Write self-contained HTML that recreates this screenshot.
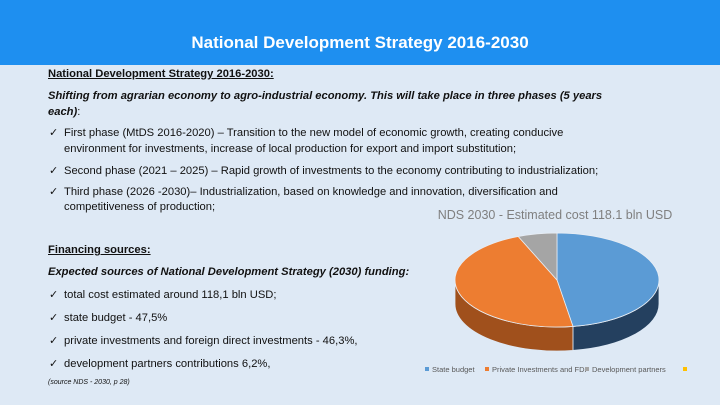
<!DOCTYPE html>
<html><head><meta charset="utf-8">
<style>
body{margin:0;}
#s{position:relative;width:720px;height:405px;background:#dee9f5;overflow:hidden;font-family:"Liberation Sans",sans-serif;color:#111;}
#hdr{position:absolute;left:0;top:0;width:720px;height:65px;background:#1e8ff0;}
#hdr div{position:absolute;left:0;width:720px;top:33px;text-align:center;color:#fff;font-weight:bold;font-size:17px;}
.t{position:absolute;left:48px;font-size:11.2px;white-space:nowrap;line-height:14px;}
.c{left:48px}
.i{left:64px}
.ck{position:absolute;left:-15px;}
</style></head><body>
<div id="s">
<div id="hdr"><div>National Development Strategy 2016-2030</div></div>
<div class="t" style="top:67px;font-weight:bold;text-decoration:underline">National Development Strategy 2016-2030:</div>
<div class="t" style="top:89px;font-weight:bold;font-style:italic">Shifting from agrarian economy to agro-industrial economy. This will take place in three phases (5 years</div>
<div class="t" style="top:105px" ><b><i>each)</i></b>:</div>
<div class="t i" style="top:126px"><span class="ck">✓</span>First phase (MtDS 2016-2020) – Transition to the new  model of economic growth, creating conducive</div>
<div class="t i" style="top:142px">environment for investments, increase of local production for export and import substitution;</div>
<div class="t i" style="top:164px"><span class="ck">✓</span>Second phase (2021 – 2025) – Rapid growth of investments to the economy contributing to industrialization;</div>
<div class="t i" style="top:185px"><span class="ck">✓</span>Third phase (2026 -2030)– Industrialization, based on knowledge and innovation, diversification and</div>
<div class="t i" style="top:200px">competitiveness of production;</div>
<div class="t" style="top:243px;font-weight:bold;text-decoration:underline">Financing sources:</div>
<div class="t" style="top:265px;font-weight:bold;font-style:italic">Expected sources of National Development Strategy (2030)  funding:</div>
<div class="t i" style="top:288px"><span class="ck">✓</span>total cost estimated around 118,1 bln USD;</div>
<div class="t i" style="top:311px"><span class="ck">✓</span>state budget - 47,5%</div>
<div class="t i" style="top:334px"><span class="ck">✓</span>private investments and foreign direct investments - 46,3%,</div>
<div class="t i" style="top:357px"><span class="ck">✓</span>development partners contributions 6,2%,</div>
<div class="t" style="top:376px;font-size:7px;font-style:italic">(source NDS - 2030, p 28)</div>
<svg id="pie" width="720" height="405" style="position:absolute;left:0;top:0">
<text x="555" y="219" text-anchor="middle" font-size="12.5" fill="#7f7f7f" font-family="Liberation Sans">NDS 2030 - Estimated cost 118.1 bln USD</text>
<g id="g"></g>
<g id="leg" font-size="7.5" fill="#595959" font-family="Liberation Sans"></g>
</svg>
</div>
<script>
const categories=["State budget","Private Investments and FDI","Development partners",""];
const values=[47.5,46.3,6.2,0];
const topColors=["#5b9bd5","#ed7d31","#a5a5a5","#ffc000"];
const sideColors=["#24405f","#a0501c","#6b6b6b","#a07800"];
const cx=557,cy=280,rx=102,ry=47,depth=24;
const g=document.getElementById('g');
const ns="http://www.w3.org/2000/svg";
const pt=(a,dy)=>[cx+rx*Math.sin(a),cy-ry*Math.cos(a)+(dy||0)];
const total=values.reduce((a,b)=>a+b,0);
let start=0;const slices=[];
values.forEach((v,i)=>{const a0=start,a1=start+v/total*2*Math.PI;slices.push([a0,a1]);start=a1;});
// sides
slices.forEach((s,i)=>{
  const a0=Math.max(s[0],Math.PI/2),a1=Math.min(s[1],3*Math.PI/2);
  if(a1<=a0)return;
  const p0=pt(a0),p1=pt(a1),q1=pt(a1,depth),q0=pt(a0,depth);
  const d=`M${p0} A${rx},${ry} 0 0 1 ${p1} L${q1} A${rx},${ry} 0 0 0 ${q0} Z`;
  const el=document.createElementNS(ns,'path');
  
  
  el.setAttribute('d',d);el.setAttribute('fill',sideColors[i]);el.setAttribute('stroke','#dee9f5');el.setAttribute('stroke-width','0.8');
  g.appendChild(el);
});
slices.forEach((s,i)=>{
  if(s[1]-s[0]<=0)return;
  const p0=pt(s[0]),p1=pt(s[1]);const large=(s[1]-s[0])>Math.PI?1:0;
  const el=document.createElementNS(ns,'path');
  
  
  el.setAttribute('d',`M${cx},${cy} L${p0} A${rx},${ry} 0 ${large} 1 ${p1} Z`);
  el.setAttribute('fill',topColors[i]);el.setAttribute('stroke','#e8eef5');el.setAttribute('stroke-width','0.8');
  g.appendChild(el);
});
// legend
const leg=document.getElementById('leg');
const widths=[48,88,86,6];let x=425;
categories.forEach((c,i)=>{
  const r=document.createElementNS(ns,'rect');
  
  
  r.setAttribute('x',x);r.setAttribute('y',367);r.setAttribute('width',4);r.setAttribute('height',4);r.setAttribute('fill',topColors[i]);
  leg.appendChild(r);
  const t=document.createElementNS(ns,'text');
  
  
  t.setAttribute('x',x+7);t.setAttribute('y',372);t.textContent=c;
  leg.appendChild(t);
  x+=widths[i]+12;
});
</script>
</body></html>
